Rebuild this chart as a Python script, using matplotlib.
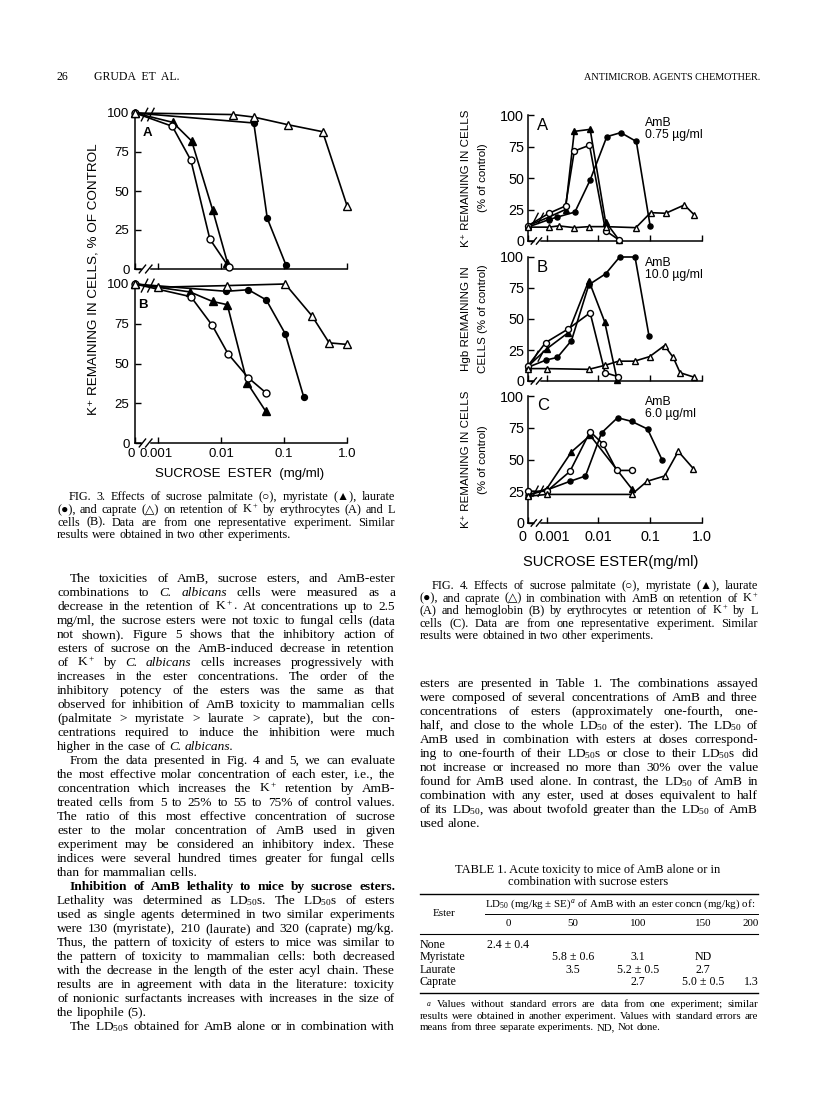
import numpy as np
import matplotlib
matplotlib.use('Agg')
import matplotlib.pyplot as plt
import matplotlib.transforms as mtransforms
from matplotlib import font_manager as fm
from matplotlib.lines import Line2D

W, H = 816, 1118

plt.rcParams['font.family'] = ['Liberation Serif', 'DejaVu Sans']
plt.rcParams['mathtext.fontset'] = 'custom'
plt.rcParams['mathtext.rm'] = 'Liberation Serif'
plt.rcParams['mathtext.it'] = 'Liberation Serif:italic'
plt.rcParams['mathtext.bf'] = 'Liberation Serif:bold'

try:
    fm.findfont('Liberation Sans Narrow', fallback_to_default=False)
    NARROW = 'Liberation Sans Narrow'
    NARROW_SCALE = 1.0
except ValueError:
    NARROW = 'Liberation Sans'
    NARROW_SCALE = 0.88
SANS_F = ['Liberation Sans', 'DejaVu Sans']
NARROW_F = [NARROW, 'DejaVu Sans']

# ---- Fig. 3 data (K+ retention, % of control) ----
f3a_palmitate_x = [0, 0.00167, 0.0033, 0.0066, 0.0132]
f3a_palmitate_y = [100, 91.5, 69.7, 19.2, 1.3]
f3a_myristate_x = [0, 0.0017, 0.0034, 0.0073, 0.0126]
f3a_myristate_y = [100, 94, 82, 38, 4]
f3a_laurate_x = [0, 0.033, 0.054, 0.107]
f3a_laurate_y = [100, 93.6, 32.5, 2.6]
f3a_caprate_x = [0, 0.0155, 0.033, 0.115, 0.41, 1.0]
f3a_caprate_y = [100, 99, 97.4, 92.5, 88, 40.6]

f3b_palmitate_x = [0, 0.0033, 0.0072, 0.0129, 0.027, 0.052]
f3b_palmitate_y = [100, 92, 74, 56, 41, 31.4]
f3b_myristate_x = [0, 0.0032, 0.0073, 0.0125, 0.026, 0.051]
f3b_myristate_y = [100, 95, 89, 87, 37.7, 20]
f3b_laurate_x = [0, 0.012, 0.027, 0.052, 0.104, 0.205]
f3b_laurate_y = [100, 95.4, 96.4, 90, 68.8, 29]
f3b_caprate_x = [0, 0.001, 0.0125, 0.104, 0.277, 0.52, 1.0]
f3b_caprate_y = [100, 98, 99, 100, 80, 63, 62]

# ---- Fig. 4 data ----
f4a_palmitate_x = [0, 0.0011, 0.0023, 0.0034, 0.0067, 0.0137, 0.025]
f4a_palmitate_y = [12, 22, 27.8, 71.4, 76, 8.2, 0.8]
f4a_myristate_x = [0, 0.0011, 0.0023, 0.0034, 0.0069, 0.0137, 0.025]
f4a_myristate_y = [12, 19, 25, 87, 88.6, 15.3, 0.8]
f4a_laurate_x = [0, 0.0011, 0.0016, 0.0035, 0.0069, 0.0145, 0.027, 0.054, 0.1]
f4a_laurate_y = [11, 17, 19, 23, 48.4, 82.8, 86, 79, 12]
f4a_caprate_x = [0, 0.0011, 0.0017, 0.0034, 0.0066, 0.0137, 0.053, 0.102, 0.2, 0.46, 0.72]
f4a_caprate_y = [11, 11, 12, 10.6, 11.4, 11.4, 10.6, 22.5, 22, 28.6, 20.6]

f4b_palmitate_x = [0, 0.00095, 0.0026, 0.0069, 0.0134, 0.024]
f4b_palmitate_y = [12, 31, 42, 55, 6.7, 3.5]
f4b_myristate_x = [0, 0.001, 0.0026, 0.0065, 0.0132, 0.023]
f4b_myristate_y = [11.6, 26, 39, 81, 47.7, 0.8]
f4b_laurate_x = [0, 0.00098, 0.0016, 0.003, 0.0065, 0.0138, 0.0257, 0.051, 0.095]
f4b_laurate_y = [11, 17, 19, 32.6, 77.6, 86.5, 100, 100, 36.4]
f4b_caprate_x = [0, 0.001, 0.0065, 0.0135, 0.0245, 0.05, 0.098, 0.19, 0.28, 0.38, 0.72]
f4b_caprate_y = [10, 10, 9.4, 12.7, 16, 16, 19.7, 28.6, 19, 6.7, 3]

f4c_palmitate_x = [0, 0.001, 0.0028, 0.0069, 0.0121, 0.0226, 0.044]
f4c_palmitate_y = [25, 25, 40.6, 72, 62.4, 41.4, 41.4]
f4c_myristate_x = [0, 0.001, 0.003, 0.0069, 0.044]
f4c_myristate_y = [21.8, 27, 56, 69, 27]
f4c_laurate_x = [0, 0.001, 0.0028, 0.0056, 0.0115, 0.0234, 0.044, 0.089, 0.17]
f4c_laurate_y = [22, 26, 32.8, 37, 71, 82.9, 80, 74, 49.8]
f4c_caprate_x = [0, 0.001, 0.044, 0.087, 0.19, 0.35, 0.69]
f4c_caprate_y = [21, 22.5, 22.5, 32.8, 37, 56.4, 42.7]

x_ticks = [0, 0.001, 0.01, 0.1, 1.0]
x_ticklabels = ['0', '0.001', '0.01', '0.1', '1.0']
y_ticks = [0, 25, 50, 75, 100]
y_ticklabels = ['0', '25', '50', '75', '100']

# ---- Table 1 ----
table_esters = ['None', 'Myristate', 'Laurate', 'Caprate']
table_concs = ['0', '50', '100', '150', '200']
table_cells = [['2.4 ± 0.4', '', '', '', ''],
               ['', '5.8 ± 0.6', '3.1', 'ND', ''],
               ['', '3.5', '5.2 ± 0.5', '2.7', ''],
               ['', '', '2.7', '5.0 ± 0.5', '1.3']]

ZERO = -0.37


def fwd(x):
    x = np.asarray(x, dtype=float)
    out = np.full(x.shape, ZERO)
    pos = x > 0
    out[pos] = np.maximum(np.log10(x[pos]) + 3, ZERO)
    return out


def inv(p):
    return 10 ** (np.asarray(p, dtype=float) - 3)


fig = plt.figure(figsize=(W / 100, H / 100), dpi=100)
renderer = fig.canvas.get_renderer()


def fxy(x, y):
    return x / W, 1 - y / H


def put(x, y, s, **kw):
    return fig.text(x / W, 1 - y / H, s, **kw)


def hline(x0, x1, y, lw=0.8):
    fig.add_artist(Line2D([x0 / W, x1 / W], [1 - y / H, 1 - y / H],
                          transform=fig.transFigure, color='k', lw=lw))


def panel(left, right, top, bottom, tick_size=9.5, family=SANS_F, xlabels=False,
          ypad=4.0, xpad=3.5, label_shift=(0, 0)):
    ax = fig.add_axes([left / W, 1 - bottom / H, (right - left) / W, (bottom - top) / H])
    ax.set_xscale('function', functions=(fwd, inv))
    ax.set_xlim(0, 1.0)
    ax.set_ylim(0, 100)
    ax.set_facecolor('none')
    for s in ['top', 'right', 'bottom']:
        ax.spines[s].set_visible(False)
    ax.spines['left'].set_linewidth(1.1)
    ax.set_xticks(x_ticks)
    ax.set_xticklabels(x_ticklabels if xlabels else [''] * len(x_ticks))
    ax.xaxis.set_minor_locator(matplotlib.ticker.NullLocator())
    ax.set_yticks(y_ticks)
    ax.set_yticklabels(y_ticklabels)
    ax.tick_params(axis='both', direction='in', length=4, width=1.0,
                   labelsize=tick_size, labelfontfamily=family)
    ax.tick_params(axis='y', pad=ypad)
    ax.tick_params(axis='x', pad=xpad)
    if xlabels:
        labels = ax.get_xticklabels()
        for lab, dx in zip(labels[:2], label_shift):
            off = mtransforms.ScaledTranslation(dx / 100, 0, fig.dpi_scale_trans)
            lab.set_transform(lab.get_transform() + off)
    # broken x axis
    ax.plot([0, 0.028], [0, 0], transform=ax.transAxes, color='k', lw=1.1, clip_on=False)
    ax.plot([0.075, 1.0], [0, 0], transform=ax.transAxes, color='k', lw=1.1, clip_on=False)
    for dx in (0.02, 0.05):
        ax.plot([dx, dx + 0.03], [-0.025, 0.025], transform=ax.transAxes,
                color='k', lw=1.0, clip_on=False)
    return ax


def series(ax, x, y, kind, ms=5.0, lw=1.2):
    marker = '^' if kind in ('myristate', 'caprate') else 'o'
    fill = 'black' if kind in ('myristate', 'laurate') else 'white'
    size = ms * (1.15 if marker == '^' else 1.0)
    if kind == 'laurate':
        size = ms * 0.85
    ax.plot(x, y, color='k', lw=lw, marker=marker, ms=size, mfc=fill, mec='k',
            mew=1.0, clip_on=False, zorder=3 if fill == 'white' else 2)


def data_break(ax, yfrac):
    for dx in (0.03, 0.06):
        ax.plot([dx, dx + 0.03], [yfrac - 0.04, yfrac + 0.04], transform=ax.transAxes,
                color='k', lw=1.0, clip_on=False, zorder=4)


# ---------------- Fig. 3 ----------------
f3a = panel(135, 347, 113, 269, xlabels=False)
series(f3a, f3a_laurate_x, f3a_laurate_y, 'laurate')
series(f3a, f3a_myristate_x, f3a_myristate_y, 'myristate')
series(f3a, f3a_palmitate_x, f3a_palmitate_y, 'palmitate')
series(f3a, f3a_caprate_x, f3a_caprate_y, 'caprate')
data_break(f3a, 0.99)

f3b = panel(135, 347, 284, 443, xlabels=True, label_shift=(-4, -2))
series(f3b, f3b_laurate_x, f3b_laurate_y, 'laurate')
series(f3b, f3b_myristate_x, f3b_myristate_y, 'myristate')
series(f3b, f3b_palmitate_x, f3b_palmitate_y, 'palmitate')
series(f3b, f3b_caprate_x, f3b_caprate_y, 'caprate')
data_break(f3b, 0.99)

put(147, 133, 'A', fontsize=9.5, family=SANS_F, weight='bold', ha='center', va='center')
put(143, 305, 'B', fontsize=9.5, family=SANS_F, weight='bold', ha='center', va='center')
put(94, 279, 'K⁺ REMAINING IN CELLS, % OF CONTROL', fontsize=9.7, family=SANS_F,
    rotation=90, ha='center', va='center')
put(240, 474, 'SUCROSE  ESTER  (mg/ml)', fontsize=9.5, family=SANS_F, ha='center', va='center')

# ---------------- Fig. 4 ----------------
f4_panels = [
    (115, 241, 'A', 'AmB\n0.75 µg/ml', 123,
     [(f4a_laurate_x, f4a_laurate_y, 'laurate'), (f4a_myristate_x, f4a_myristate_y, 'myristate'),
      (f4a_palmitate_x, f4a_palmitate_y, 'palmitate'), (f4a_caprate_x, f4a_caprate_y, 'caprate')],
     ('K⁺ REMAINING IN CELLS', '(% of control)'), 0.18),
    (257, 381, 'B', 'AmB\n10.0 µg/ml', 263,
     [(f4b_laurate_x, f4b_laurate_y, 'laurate'), (f4b_myristate_x, f4b_myristate_y, 'myristate'),
      (f4b_palmitate_x, f4b_palmitate_y, 'palmitate'), (f4b_caprate_x, f4b_caprate_y, 'caprate')],
     ('Hgb REMAINING IN', 'CELLS (% of control)'), 0.2),
    (396, 523, 'C', 'AmB\n6.0 µg/ml', 402,
     [(f4c_laurate_x, f4c_laurate_y, 'laurate'), (f4c_myristate_x, f4c_myristate_y, 'myristate'),
      (f4c_palmitate_x, f4c_palmitate_y, 'palmitate'), (f4c_caprate_x, f4c_caprate_y, 'caprate')],
     ('K⁺ REMAINING IN CELLS', '(% of control)'), 0.25),
]
for top, bottom, letter, note, note_y, ser, ylab, brk in f4_panels:
    ax = panel(527.7, 701.8, top, bottom, tick_size=11.8 * NARROW_SCALE, family=NARROW_F,
               xlabels=(letter == 'C'), ypad=2.5, xpad=5, label_shift=(-5, 5))
    for x, y, kind in ser:
        series(ax, x, y, kind, ms=4.3, lw=1.2)
    data_break(ax, brk)
    put(537, top + 10, letter, fontsize=12, family=NARROW_F, ha='left', va='center')
    put(645, note_y - 6, note, fontsize=10 * NARROW_SCALE, family=NARROW_F, ha='left',
        va='top', linespacing=1.0)
    mid = (top + bottom) / 2
    put(466, mid, ylab[0], fontsize=9.4 * NARROW_SCALE, family=NARROW_F, rotation=90,
        ha='center', va='center')
    put(483, mid, ylab[1], fontsize=9.4 * NARROW_SCALE, family=NARROW_F, rotation=90,
        ha='center', va='center')
put(611, 562, 'SUCROSE ESTER(mg/ml)', fontsize=12 * NARROW_SCALE, family=NARROW_F,
    ha='center', va='center')


# ---------------- text ----------------
def justify(line, x0, x1, y, size, last=False, weight='normal'):
    words = []
    for w in line.split():
        style = 'normal'
        if w.startswith('~'):
            w, style = w[1:], 'italic'
        words.append((w, style))
    arts = [put(x0, y, w, fontsize=size, style=st, weight=weight, va='baseline')
            for w, st in words]
    widths = [t.get_window_extent(renderer).width for t in arts]
    n = len(arts)
    min_gap = 0.2 * size * 100 / 72
    avail = x1 - x0
    if not last and n > 1 and sum(widths) + min_gap * (n - 1) > avail:
        k = (avail - min_gap * (n - 1)) / sum(widths)
        for t in arts:
            t.set_fontsize(size * k)
        widths = [t.get_window_extent(renderer).width for t in arts]
    if last or n == 1:
        gap = size * 0.25 * 100 / 72
    else:
        gap = (avail - sum(widths)) / (n - 1)
    x = x0
    for t, wd in zip(arts, widths):
        t.set_position(fxy(x, y))
        x += wd + gap


def column(lines, x0, x1, y0, dy, size, indent):
    for i, line in enumerate(lines):
        xs, weight, last = x0, 'normal', False
        if line.startswith('>'):
            line, xs = line[1:], x0 + indent
        if line.startswith('*'):
            line, weight = line[1:], 'bold'
        if line.endswith('|'):
            line, last = line[:-1], True
        justify(line, xs, x1, y0 + i * dy + 4, size, last, weight)


left_text = [
    '>The toxicities of AmB, sucrose esters, and AmB-ester',
    'combinations to ~C. ~albicans cells were measured as a',
    'decrease in the retention of K$^+$. At concentrations up to 2.5',
    'mg/ml, the sucrose esters were not toxic to fungal cells (data',
    'not shown). Figure 5 shows that the inhibitory action of',
    'esters of sucrose on the AmB-induced decrease in retention',
    'of K$^+$ by ~C. ~albicans cells increases progressively with',
    'increases in the ester concentrations. The order of the',
    'inhibitory potency of the esters was the same as that',
    'observed for inhibition of AmB toxicity to mammalian cells',
    '(palmitate > myristate > laurate > caprate), but the con-',
    'centrations required to induce the inhibition were much',
    'higher in the case of ~C. ~albicans.|',
    '>From the data presented in Fig. 4 and 5, we can evaluate',
    'the most effective molar concentration of each ester, i.e., the',
    'concentration which increases the K$^+$ retention by AmB-',
    'treated cells from 5 to 25% to 55 to 75% of control values.',
    'The ratio of this most effective concentration of sucrose',
    'ester to the molar concentration of AmB used in given',
    'experiment may be considered an inhibitory index. These',
    'indices were several hundred times greater for fungal cells',
    'than for mammalian cells.|',
    '>*Inhibition of AmB lethality to mice by sucrose esters.',
    'Lethality was determined as LD$_{50}$s. The LD$_{50}$s of esters',
    'used as single agents determined in two similar experiments',
    'were 130 (myristate), 210 (laurate) and 320 (caprate) mg/kg.',
    'Thus, the pattern of toxicity of esters to mice was similar to',
    'the pattern of toxicity to mammalian cells: both decreased',
    'with the decrease in the length of the ester acyl chain. These',
    'results are in agreement with data in the literature: toxicity',
    'of nonionic surfactants increases with increases in the size of',
    'the lipophile (5).|',
    '>The LD$_{50}$s obtained for AmB alone or in combination with',
]
right_text = [
    'esters are presented in Table 1. The combinations assayed',
    'were composed of several concentrations of AmB and three',
    'concentrations of esters (approximately one-fourth, one-',
    'half, and close to the whole LD$_{50}$ of the ester). The LD$_{50}$ of',
    'AmB used in combination with esters at doses correspond-',
    'ing to one-fourth of their LD$_{50}$s or close to their LD$_{50}$s did',
    'not increase or increased no more than 30% over the value',
    'found for AmB used alone. In contrast, the LD$_{50}$ of AmB in',
    'combination with any ester, used at doses equivalent to half',
    'of its LD$_{50}$, was about twofold greater than the LD$_{50}$ of AmB',
    'used alone.|',
]
cap3 = [
    '>FIG. 3. Effects of sucrose palmitate (○), myristate (▲), laurate',
    '(●), and caprate (△) on retention of K$^+$ by erythrocytes (A) and L',
    'cells (B). Data are from one representative experiment. Similar',
    'results were obtained in two other experiments.|',
]
cap4 = [
    '>FIG. 4. Effects of sucrose palmitate (○), myristate (▲), laurate',
    '(●), and caprate (△) in combination with AmB on retention of K$^+$',
    '(A) and hemoglobin (B) by erythrocytes or retention of K$^+$ by L',
    'cells (C). Data are from one representative experiment. Similar',
    'results were obtained in two other experiments.|',
]
foot = [
    '>$^a$ Values without standard errors are data from one experiment; similar',
    'results were obtained in another experiment. Values with standard errors are',
    'means from three separate experiments. ND, Not done.|',
]

column(left_text, 57, 395, 578, 14, 9.6, 13)
column(right_text, 420, 758, 683, 14, 9.6, 13)
column(cap3, 57, 395, 496, 12.8, 8.8, 12)
column(cap4, 420, 758, 585, 12.6, 8.8, 12)
column(foot, 420, 758, 1003, 11.6, 7.8, 6)

# header
put(56, 80, '26', fontsize=8.5, va='baseline')
put(94, 80, 'GRUDA  ET  AL.', fontsize=8.5, va='baseline')
put(760, 80, 'ANTIMICROB. AGENTS CHEMOTHER.', fontsize=7.3, va='baseline', ha='right')

# table
put(588, 873, 'TABLE 1. Acute toxicity to mice of AmB alone or in', fontsize=9.0,
    ha='center', va='baseline')
put(588, 885, 'combination with sucrose esters', fontsize=9.0, ha='center', va='baseline')
hline(420, 758, 894, 1.0)
put(620, 907, 'LD$_{50}$ (mg/kg ± SE)$^a$ of AmB with an ester concn (mg/kg) of:',
    fontsize=7.9, ha='center', va='baseline')
put(444, 916, 'Ester', fontsize=8.0, ha='center', va='baseline')
hline(485, 758, 914, 0.7)
col_x = [508, 573, 638, 703, 751]
for cx, c in zip(col_x, table_concs):
    put(cx, 926, c, fontsize=7.9, ha='center', va='baseline')
hline(420, 758, 934, 0.8)
for i, (name, row) in enumerate(zip(table_esters, table_cells)):
    y = 948 + i * 12.3
    put(420, y, name, fontsize=8.6, va='baseline')
    for cx, val in zip(col_x, row):
        if val:
            put(cx, y, val, fontsize=8.6, ha='center', va='baseline')
hline(420, 758, 993, 1.0)

fig.savefig('out.png', dpi=100)
